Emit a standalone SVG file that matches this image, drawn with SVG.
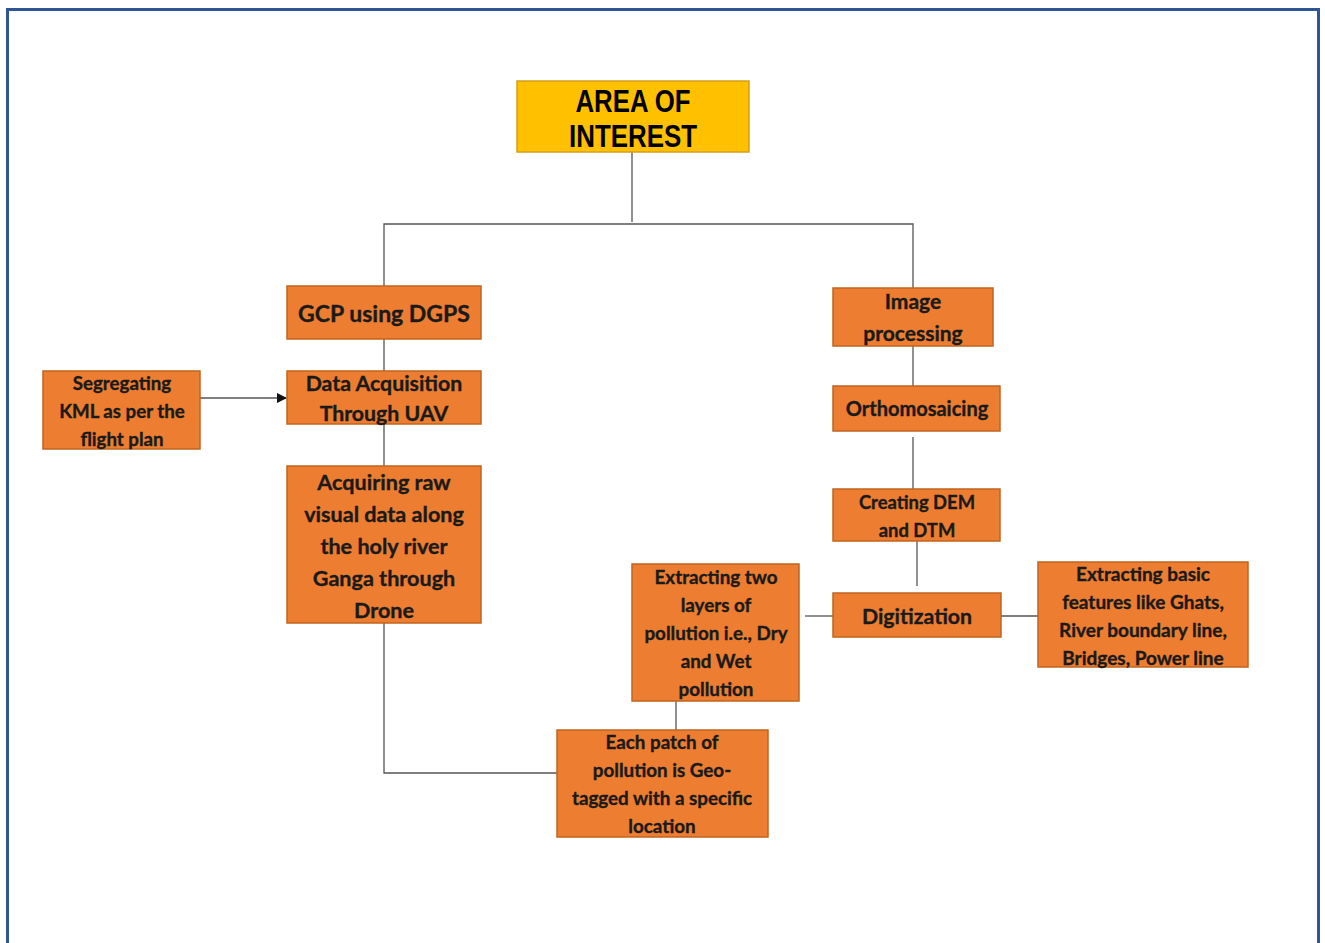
<svg xmlns="http://www.w3.org/2000/svg" width="1325" height="943" viewBox="0 0 1325 943">
<style>
.box{fill:#ED7D31;stroke:#C0641F;stroke-width:1.5}
.t{font-family:Lato,"Open Sans","Liberation Sans",sans-serif;font-weight:bold;fill:#1a1a1a;stroke:#1a1a1a;stroke-width:0.35;text-anchor:middle}
.h{font-family:"Liberation Sans",Arial,sans-serif;font-weight:bold;font-size:31px;fill:#000;text-anchor:middle}
.c{stroke:#555;stroke-width:1.3;fill:none}
</style>
<defs>
<marker id="arr" markerWidth="10" markerHeight="10" refX="9" refY="5" orient="auto" markerUnits="userSpaceOnUse">
<path d="M0,0 L10,5 L0,10 z" fill="#111"/>
</marker>
</defs>
<rect x="0" y="0" width="1325" height="943" fill="#fff"/>
<path d="M7.5,950 V9.5 H1318.5 V950" fill="none" stroke="#2F5597" stroke-width="3"/>
<g id="connectors">
<path class="c" d="M632,152 V222"/>
<path class="c" d="M384,286 V224 H913 V288"/>
<path class="c" d="M384,339 V371"/>
<path class="c" d="M384,424 V466"/>
<path class="c" d="M200,398 H286" marker-end="url(#arr)"/>
<path class="c" d="M384,623 V773 H557"/>
<path class="c" d="M676,701 V730"/>
<path class="c" d="M805,616 H833"/>
<path class="c" d="M1001,616 H1038"/>
<path class="c" d="M913,346 V386"/>
<path class="c" d="M913,437 V489"/>
<path class="c" d="M917,535 V586"/>
</g>
<g id="area">
<rect x="517" y="81" width="232" height="71" fill="#FFC000" stroke="#D4A017" stroke-width="1.5"/>
<text class="h" x="633" y="112" textLength="115" lengthAdjust="spacingAndGlyphs">AREA OF</text>
<text class="h" x="633" y="147" textLength="128" lengthAdjust="spacingAndGlyphs">INTEREST</text>
</g>
<g id="gcp">
<rect class="box" x="287" y="286" width="194" height="53"/>
<text class="t" x="384" y="322" font-size="23">GCP using DGPS</text>
</g>
<g id="data">
<rect class="box" x="287" y="371" width="194" height="53"/>
<text class="t" x="384" y="391" font-size="21.3">Data Acquisition</text>
<text class="t" x="384" y="421" font-size="21.3">Through UAV</text>
</g>
<g id="kml">
<rect class="box" x="43" y="371" width="157" height="78"/>
<text class="t" x="122" y="390" font-size="18.7">Segregating</text>
<text class="t" x="122" y="418" font-size="18.7">KML as per the</text>
<text class="t" x="122" y="446" font-size="18.7">flight plan</text>
</g>
<g id="raw">
<rect class="box" x="287" y="466" width="194" height="157"/>
<text class="t" x="384" y="490" font-size="21.6">Acquiring raw</text>
<text class="t" x="384" y="522" font-size="21.6">visual data along</text>
<text class="t" x="384" y="554" font-size="21.6">the holy river</text>
<text class="t" x="384" y="586" font-size="21.6">Ganga through</text>
<text class="t" x="384" y="618" font-size="21.6">Drone</text>
</g>
<g id="geotag">
<rect class="box" x="557" y="730" width="211" height="107"/>
<text class="t" x="662" y="749" font-size="18.8">Each patch of</text>
<text class="t" x="662" y="777" font-size="18.8">pollution is Geo-</text>
<text class="t" x="662" y="805" font-size="18.8">tagged with a specific</text>
<text class="t" x="662" y="833" font-size="18.8">location</text>
</g>
<g id="layers">
<rect class="box" x="632" y="564" width="167" height="137"/>
<text class="t" x="716" y="584" font-size="18.8">Extracting two</text>
<text class="t" x="716" y="612" font-size="18.8">layers of</text>
<text class="t" x="716" y="640" font-size="18.8">pollution i.e., Dry</text>
<text class="t" x="716" y="668" font-size="18.8">and Wet</text>
<text class="t" x="716" y="696" font-size="18.8">pollution</text>
</g>
<g id="digit">
<rect class="box" x="833" y="593" width="168" height="44"/>
<text class="t" x="917" y="624" font-size="21.3">Digitization</text>
</g>
<g id="features">
<rect class="box" x="1038" y="562" width="210" height="105"/>
<text class="t" x="1143" y="581" font-size="19">Extracting basic</text>
<text class="t" x="1143" y="609" font-size="19">features like Ghats,</text>
<text class="t" x="1143" y="637" font-size="19">River boundary line,</text>
<text class="t" x="1143" y="665" font-size="19">Bridges, Power line</text>
</g>
<g id="imgproc">
<rect class="box" x="833" y="288" width="160" height="58"/>
<text class="t" x="913" y="309" font-size="21">Image</text>
<text class="t" x="913" y="341" font-size="21">processing</text>
</g>
<g id="ortho">
<rect class="box" x="833" y="386" width="167" height="45"/>
<text class="t" x="917" y="416" font-size="20">Orthomosaicing</text>
</g>
<g id="dem">
<rect class="box" x="833" y="489" width="167" height="52"/>
<text class="t" x="917" y="509" font-size="18.4">Creating DEM</text>
<text class="t" x="917" y="537" font-size="18.4">and DTM</text>
</g>
</svg>
